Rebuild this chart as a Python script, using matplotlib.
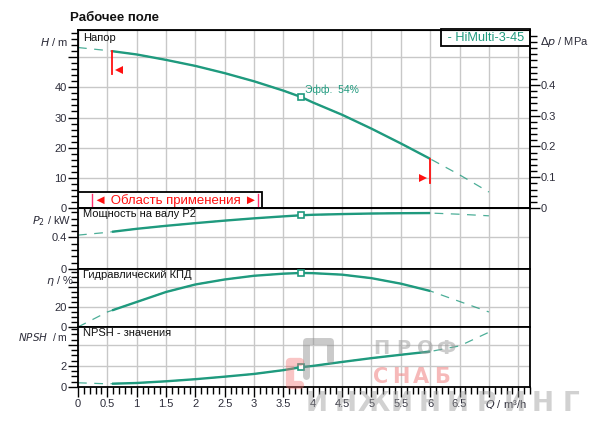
import numpy as np
import matplotlib
matplotlib.use('Agg')
import matplotlib.pyplot as plt
from matplotlib.ticker import MultipleLocator, FixedLocator
from matplotlib.patches import Rectangle

plt.rcParams['font.family'] = ['Liberation Sans', 'DejaVu Sans']

# flow values, m3/h
q_pts = [0, 0.5, 1, 1.5, 2, 2.5, 3, 3.5, 3.8, 4, 4.5, 5, 5.5, 6, 6.5, 7]
# head, m
h_head = [53.2, 52.2, 50.9, 49.1, 47.1, 44.7, 42.0, 38.9, 36.8, 35.0, 30.9, 26.3, 21.4, 16.3, 11.0, 5.3]
# shaft power P2, kW
p_pow = [0.43, 0.465, 0.51, 0.548, 0.582, 0.614, 0.643, 0.668, 0.682, 0.688, 0.697, 0.704, 0.708, 0.71, 0.695, 0.675]
# hydraulic efficiency, %
eta = [0, 15, 25, 35, 42.5, 47.5, 51.2, 53.3, 54, 53.8, 52.3, 48.8, 43.3, 36, 25.5, 15]
# NPSH, m
npsh = [0.4, 0.3, 0.38, 0.54, 0.74, 0.98, 1.24, 1.6, 1.88, 2.0, 2.38, 2.74, 3.06, 3.37, 3.9, 5.2]

q_min, q_max = 0.58, 6.0
q_duty = 3.8
x_labels = ['0', '0.5', '1', '1.5', '2', '2.5', '3', '3.5', '4', '4.5', '5', '5.5', '6', '6.5']

teal = '#1f9a7e'
grid_c = '#c8c8c8'
tick_c = '#2d2d3a'
red = '#ff1010'

fig = plt.figure(figsize=(6, 4.32), dpi=100)
L, W = 0.13, 0.7533
ax_h = fig.add_axes([L, 0.5185, W, 0.412])
ax_p = fig.add_axes([L, 0.3773, W, 0.1412], sharex=ax_h)
ax_e = fig.add_axes([L, 0.2431, W, 0.1343], sharex=ax_h)
ax_n = fig.add_axes([L, 0.1042, W, 0.1389], sharex=ax_h)
axes = [ax_h, ax_p, ax_e, ax_n]


def draw(ax, vals):
    q = np.array(q_pts)
    v = np.array(vals)
    ax.plot(q, v, color=teal, lw=0.9, dashes=(7, 6), alpha=0.8)
    inside = (q > q_min) & (q < q_max)
    qs = np.concatenate([[q_min], q[inside], [q_max]])
    vs = np.concatenate([[np.interp(q_min, q, v)], v[inside], [np.interp(q_max, q, v)]])
    ax.plot(qs, vs, color=teal, lw=1.7, solid_capstyle='butt', solid_joinstyle='round')
    ax.plot([q_duty], [np.interp(q_duty, q, v)], marker='s', ms=5, mfc='white',
            mec=teal, mew=1.2, zorder=5)


draw(ax_h, h_head)
draw(ax_p, p_pow)
draw(ax_e, eta)
draw(ax_n, npsh)

for ax in axes:
    ax.set_xlim(0, 7.7)
    ax.xaxis.set_major_locator(MultipleLocator(0.5))
    ax.xaxis.set_minor_locator(MultipleLocator(0.1))
    ax.grid(True, which='major', color=grid_c, lw=1.0)
    ax.set_axisbelow(True)
    for s in ax.spines.values():
        s.set_linewidth(1.3)
    ax.tick_params(axis='y', which='major', direction='out', length=7, width=1.0,
                   labelsize=8, colors='black', labelcolor=tick_c, pad=1)
    ax.tick_params(axis='y', which='minor', direction='out', length=5, width=1.0)
    ax.tick_params(axis='x', which='both', bottom=False, labelbottom=False)

ax_n.tick_params(axis='x', which='major', bottom=True, labelbottom=True, direction='out',
                 length=7, width=1.0, labelsize=8, labelcolor=tick_c, pad=2)
ax_n.tick_params(axis='x', which='minor', bottom=True, direction='out', length=5, width=1.0)
ax_n.set_xticks(np.arange(0, 7.51, 0.5))
ax_n.set_xticklabels(x_labels + ['', ''])
ax_n.text(6.93, -1.05, '$Q$ / m³/h', fontsize=8, color=tick_c, ha='left', va='top')

# head panel with pressure scale on the right
ax_h.set_ylim(0, 59)
ax_h.yaxis.set_major_locator(FixedLocator([0, 10, 20, 30, 40, 50]))
ax_h.set_yticklabels(['0', '10', '20', '30', '40', ''])
ax_h.yaxis.set_minor_locator(MultipleLocator(2))
ax_r = ax_h.twinx()
ax_r.set_ylim(0, 59 * 0.00980665)
ax_r.yaxis.set_major_locator(FixedLocator([0, 0.1, 0.2, 0.3, 0.4]))
ax_r.set_yticklabels(['0', '0.1', '0.2', '0.3', '0.4'])
ax_r.yaxis.set_minor_locator(MultipleLocator(0.02))
ax_r.tick_params(axis='y', which='major', direction='out', length=7, width=1.0,
                 labelsize=8, labelcolor=tick_c, pad=1)
ax_r.tick_params(axis='y', which='minor', direction='out', length=5, width=1.0)
ax_r.spines['right'].set_linewidth(1.3)

ax_p.set_ylim(0, 0.774)
ax_p.yaxis.set_major_locator(FixedLocator([0, 0.4]))
ax_p.set_yticklabels(['0', '0.4'])
ax_p.yaxis.set_minor_locator(MultipleLocator(0.08))

ax_e.set_ylim(0, 58)
ax_e.yaxis.set_major_locator(FixedLocator([0, 20, 40]))
ax_e.set_yticklabels(['0', '20', ''])
ax_e.yaxis.set_minor_locator(MultipleLocator(5))

ax_n.set_ylim(0, 5.7)
ax_n.yaxis.set_major_locator(FixedLocator([0, 2, 4]))
ax_n.set_yticklabels(['0', '2', ''])
ax_n.yaxis.set_minor_locator(MultipleLocator(0.5))

# limits of the operating range
h_lo = np.interp(q_min, q_pts, h_head)
h_hi = np.interp(q_max, q_pts, h_head)
ax_h.plot([q_min, q_min], [h_lo, h_lo - 7.7], color=red, lw=1.3)
ax_h.plot([q_min + 0.12], [h_lo - 6.2], marker='<', ms=6, color=red, mew=0)
ax_h.plot([q_max, q_max], [h_hi, h_hi - 8.0], color=red, lw=1.3)
ax_h.plot([q_max - 0.12], [h_hi - 6.5], marker='>', ms=6, color=red, mew=0)

for ax, txt in [(ax_h, 'Напор'), (ax_p, 'Мощность на валу P2'),
                (ax_e, 'Гидравлический КПД'), (ax_n, 'NPSH - значения')]:
    ax.text(0.012, 0.985, txt, transform=ax.transAxes, fontsize=8, color='#111111',
            ha='left', va='top')

ax_h.text(3.87, 39.3, 'Эфф.  54%', fontsize=7.5, color=teal, ha='left', va='center')

# legend boxes
ax_h.add_patch(Rectangle((0, 0), 3.13, 5.4, facecolor='white', edgecolor='black',
                         lw=1.3, zorder=6))
ax_h.text(1.66, 2.6, '◄ Область применения ►', fontsize=9.5, color=red, ha='center',
          va='center', zorder=7)
for qx in [0.24, 3.07]:
    ax_h.plot([qx, qx], [0.2, 4.6], color='#ff3070', lw=1.0, zorder=7)
ax_h.text(0.995, 0.99, ' - HiMulti-3-45 ', transform=ax_h.transAxes, fontsize=9.2,
          color=teal, ha='right', va='top', zorder=7,
          bbox=dict(boxstyle='square,pad=0.2', fc='white', ec='black', lw=1.3))

# titles
fig.text(70 / 600, 1 - 18 / 432, 'Рабочее поле', fontsize=9.5, fontweight='bold',
         ha='left', va='center', color='#111111')
fig.text(68 / 600, 1 - 42 / 432, '$H$ / m', fontsize=8, ha='right', va='center', color=tick_c)
fig.text(540 / 600, 1 - 42 / 432, '$\\Delta p$ / MPa', fontsize=8, ha='left', va='center',
         color=tick_c)
fig.text(71 / 600, 1 - 221 / 432, '$P_2$ / kW', fontsize=8, ha='right', va='center', color=tick_c)
fig.text(74 / 600, 1 - 281 / 432, '$\\eta$ / %', fontsize=8, ha='right', va='center', color=tick_c)
fig.text(68 / 600, 1 - 337 / 432, '$NPSH$  / m', fontsize=7.5, ha='right', va='center',
         color=tick_c)

# watermark, letter by letter so it spreads like the original
def spaced(word, x0, x1, y, size, color, alpha):
    step = (x1 - x0) / len(word)
    for i, ch in enumerate(word):
        fig.text((x0 + step * (i + 0.5)) / 600, 1 - y / 432, ch, fontsize=size,
                 fontweight='bold', color=color, alpha=alpha, ha='center', va='center',
                 zorder=20, family=['DejaVu Sans'])


spaced('ПРОФ', 370, 458, 348, 14, '#9a9a9a', 0.5)
spaced('СНАБ', 370, 452, 377, 15, '#f08080', 0.55)
spaced('ИНЖИНИРИНГ', 303, 585, 404, 19, '#9a9a9a', 0.45)
fig.lines.append(plt.Line2D([306 / 600, 306 / 600, 330 / 600, 330 / 600],
                            [1 - 376 / 432, 1 - 341 / 432, 1 - 341 / 432, 1 - 360 / 432],
                            transform=fig.transFigure, color='#8a8a8a', lw=5, alpha=0.45,
                            solid_capstyle='round', solid_joinstyle='round', zorder=20))
fig.lines.append(plt.Line2D([300 / 600, 290 / 600, 290 / 600, 300 / 600],
                            [1 - 362 / 432, 1 - 362 / 432, 1 - 385 / 432, 1 - 385 / 432],
                            transform=fig.transFigure, color='#f07070', lw=6, alpha=0.4,
                            solid_capstyle='round', solid_joinstyle='round', zorder=20))

fig.savefig('out.png', dpi=100)
